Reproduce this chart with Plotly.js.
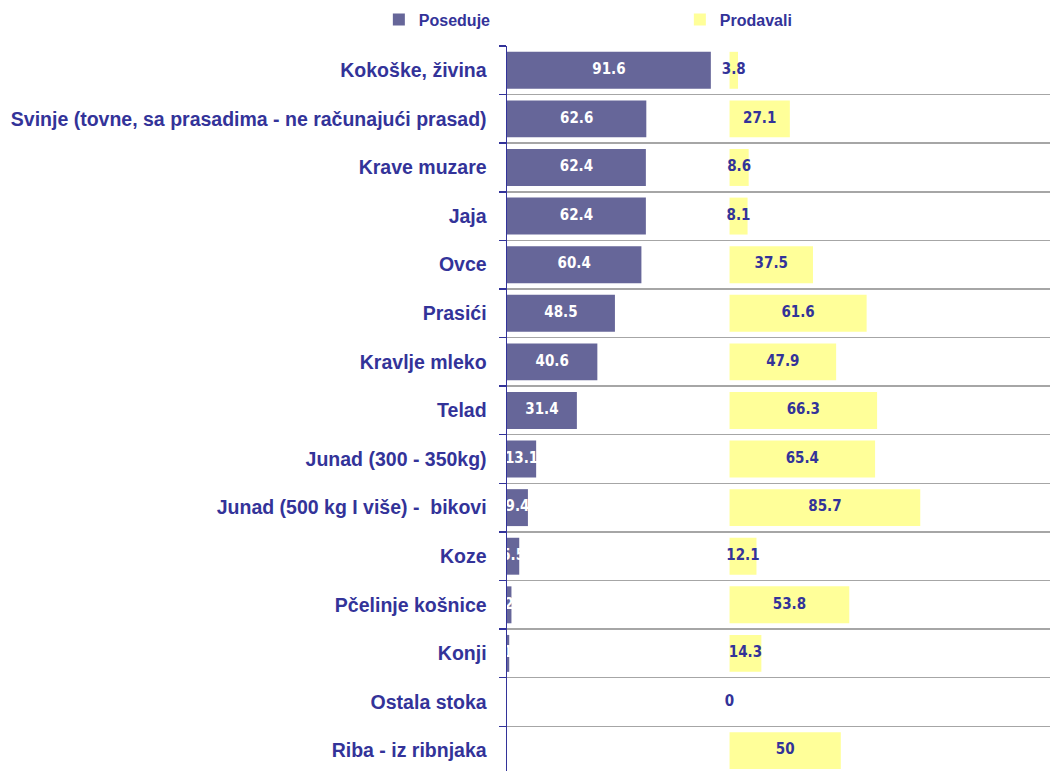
<!DOCTYPE html>
<html>
<head>
<meta charset="utf-8">
<script src="https://cdn.plot.ly/plotly-3.0.1.min.js"></script>
<style>html,body{margin:0;padding:0;background:#fff;}#chart{width:1050px;height:771px;}</style>
</head>
<body>
<div id="chart"></div>
<script>
const categories = [
  "Kokoške, živina",
  "Svinje (tovne, sa prasadima - ne računajući prasad)",
  "Krave muzare",
  "Jaja",
  "Ovce",
  "Prasići",
  "Kravlje mleko",
  "Telad",
  "Junad (300 - 350kg)",
  "Junad (500 kg I više) -  bikovi",
  "Koze",
  "Pčelinje košnice",
  "Konji",
  "Ostala stoka",
  "Riba - iz ribnjaka"
];
const poseduje = [91.6, 62.6, 62.4, 62.4, 60.4, 48.5, 40.6, 31.4, 13.1, 9.4, 5.5, 2.0, 1.0, 0, 0];
const prodavali = [3.8, 27.1, 8.6, 8.1, 37.5, 61.6, 47.9, 66.3, 65.4, 85.7, 12.1, 53.8, 14.3, 0, 50];
const seriesNames = ["Poseduje", "Prodavali"];

const OFFSET = 100;      // start of the second panel on the shared value scale
const PURPLE = "#666699", YELLOW = "#FFFF99", NAVY = "#333399";
const condensed = "'DejaVu Sans Condensed', 'Liberation Sans Narrow', 'Arial Narrow', sans-serif";
const sans = "'Liberation Sans', Arial, sans-serif";

const traces = [
  {
    type: "bar", orientation: "h", name: seriesNames[0],
    y: categories, x: poseduje, base: 0,
    width: 0.76, marker: {color: PURPLE, line: {width: 0}},
    hoverinfo: "skip"
  },
  {
    type: "bar", orientation: "h", name: seriesNames[1],
    y: categories, x: prodavali, base: OFFSET,
    width: 0.76, marker: {color: YELLOW, line: {width: 0}},
    hoverinfo: "skip"
  },
  {
    type: "scatter", mode: "text", showlegend: false, hoverinfo: "skip",
    y: categories, x: poseduje.map(v => v / 2),
    text: poseduje.map(v => v === 0 ? "" : String(v)),
    textfont: {family: condensed, size: 15, color: "#ffffff", weight: "bold"},
    cliponaxis: false
  },
  {
    type: "scatter", mode: "text", showlegend: false, hoverinfo: "skip",
    y: categories, x: prodavali.map(v => OFFSET + v / 2),
    text: prodavali.map(v => String(v)),
    textfont: {family: condensed, size: 15, color: NAVY, weight: "bold"},
    cliponaxis: false
  }
];

const layout = {
  width: 1050, height: 771,
  margin: {l: 507, r: 0, t: 46, b: 0, pad: 0, autoexpand: false},
  paper_bgcolor: "#ffffff", plot_bgcolor: "#ffffff",
  barmode: "overlay",
  showlegend: true,
  legend: {
    orientation: "h", x: -0.236, xanchor: "left",
    y: 1.060, yanchor: "top",
    font: {family: sans, size: 16, color: NAVY, weight: "bold"},
    entrywidth: 256, itemwidth: 30,
    bgcolor: "rgba(0,0,0,0)"
  },
  xaxis: {
    range: [0, 244], visible: false, fixedrange: true
  },
  yaxis: {
    type: "category", autorange: false, range: [14.42, -0.5],
    tickson: "boundaries", ticks: "outside", ticklen: 7, tickwidth: 1.5, tickcolor: NAVY,
    showgrid: true, gridcolor: "#A6A6A6", gridwidth: 1.5,
    showline: true, linecolor: NAVY, linewidth: 1.5,
    ticklabelstandoff: 15,
    tickfont: {family: sans, size: 19.5, color: NAVY, weight: "bold"},
    fixedrange: true
  }
};

Plotly.newPlot("chart", traces, layout, {displayModeBar: false, staticPlot: true});
</script>
</body>
</html>
